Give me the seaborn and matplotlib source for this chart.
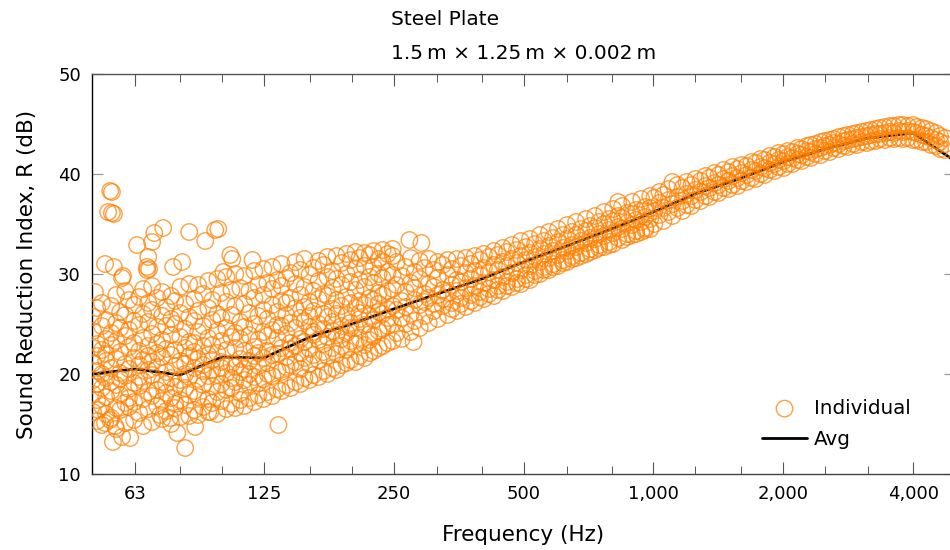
import matplotlib
matplotlib.use("Agg")
import matplotlib.pyplot as plt
import pandas as pd
import seaborn as sns
from matplotlib.ticker import FixedLocator, FixedFormatter, NullFormatter

# ---------------- data ----------------
avg_freq = [50, 63, 80, 100, 125, 160, 200, 250, 315, 400, 500, 630, 800,
            1000, 1250, 1600, 2000, 2500, 3150, 4000, 5000]
avg_R = [20.0, 20.5, 19.9, 21.7, 21.6, 23.7, 25.0, 26.5, 28.0, 29.5, 31.2, 32.8,
         34.5, 36.2, 38.0, 39.6, 41.2, 42.5, 43.6, 44.1, 41.3]

# isolated circles
sparse_freq = [55.1, 55.6, 54.5, 55.6, 56.2, 50.8, 53.6, 56.2, 59.0, 58.7, 63.6,
               69.7, 73.1, 68.9, 67.5, 67.1, 67.1, 67.8, 77.1, 80.9, 84.0, 91.5,
               96.5, 98.1, 104.6, 105.7, 117.7, 100.8, 82.2, 78.8, 61.3, 55.9,
               58.7, 53.6, 55.1, 56.6, 135.2, 86.7, 75.9, 71.9, 51.7, 94.0,
               278.0, 272.0, 290.0]
sparse_R = [38.3, 38.2, 36.2, 36.1, 36.0, 28.2, 31.0, 30.7, 29.8, 29.6, 32.9,
            34.1, 34.6, 33.2, 31.7, 30.7, 30.4, 30.5, 30.7, 31.2, 34.2, 33.3,
            34.4, 34.5, 31.9, 31.5, 31.4, 30.2, 12.6, 14.1, 13.6, 13.2, 13.7,
            15.1, 15.4, 14.8, 14.9, 14.7, 15.6, 15.9, 16.4, 16.2,
            23.2, 33.4, 33.1]

# dense cloud, low frequencies
low_freq = [50.3, 51.4, 52.7, 53.9, 55.4, 56.9, 58.1, 59.7, 60.9, 62.6, 64.3,
            65.7, 67.5, 68.9, 70.8, 72.7, 74.3, 76.3, 77.9, 80.1, 82.2, 84.0,
            86.3, 88.1, 90.5, 93.0, 95.0, 97.6, 99.7, 102.4, 105.2, 107.4,
            110.3, 112.7, 115.8, 118.9, 121.5, 124.8, 127.5, 130.9, 134.5,
            137.4, 141.1, 144.2, 148.1, 152.1, 155.4, 159.6, 163.0, 167.5,
            172.0, 175.7, 180.5, 184.4, 189.4, 194.5, 198.7, 204.1, 208.5,
            214.2, 220.0, 224.7, 230.8, 235.8, 242.2, 248.8]
low_R = [
    [16.2, 18.0, 19.4, 21.1, 22.6, 24.3, 25.7],
    [15.3, 17.4, 20.3, 21.8, 23.0, 19.0, 26.6],
    [14.9, 16.8, 18.6, 20.0, 22.4, 24.8, 27.1],
    [16.0, 17.7, 19.6, 21.3, 23.5, 25.4, 22.0],
    [15.6, 18.3, 20.6, 22.9, 24.1, 26.8, 19.2],
    [14.5, 16.6, 18.9, 21.5, 23.3, 25.1, 27.9],
    [16.4, 17.9, 20.1, 22.2, 24.6, 26.2, 19.5],
    [15.1, 17.1, 19.8, 21.0, 23.8, 25.9, 28.3],
    [16.7, 18.5, 20.5, 22.7, 24.4, 27.4, 17.6],
    [15.4, 17.2, 19.1, 21.6, 23.1, 25.3, 26.9],
    [16.1, 18.8, 20.9, 22.3, 24.9, 27.7, 19.7],
    [14.8, 17.5, 19.3, 21.4, 23.6, 26.0, 28.5],
    [16.5, 18.2, 20.4, 22.8, 25.2, 27.1, 21.8],
    [15.2, 17.8, 19.9, 21.2, 24.0, 26.4, 28.8],
    [16.8, 18.4, 20.7, 23.0, 24.7, 27.6, 22.1],
    [15.5, 17.3, 19.2, 21.7, 23.4, 25.8, 28.2],
    [16.3, 18.1, 20.2, 22.5, 24.8, 26.7, 19.0],
    [15.0, 17.6, 19.6, 21.9, 23.9, 25.5, 27.8],
    [16.6, 18.7, 20.8, 22.4, 25.0, 27.3, 17.0],
    [15.7, 17.4, 19.4, 21.3, 23.7, 26.1, 28.7],
    [16.9, 18.6, 20.0, 22.6, 24.5, 27.0, 21.0],
    [15.8, 17.9, 19.7, 21.8, 23.2, 25.7, 29.0],
    [16.4, 18.3, 20.6, 23.1, 25.3, 27.5, 22.2],
    [15.9, 17.7, 19.5, 21.5, 24.2, 26.3, 28.9],
    [16.7, 18.9, 20.9, 22.8, 24.8, 28.0, 20.3],
    [16.2, 17.5, 19.8, 21.9, 23.6, 26.6, 29.3],
    [17.1, 18.8, 20.4, 22.9, 25.4, 27.4, 21.4],
    [16.0, 18.2, 19.9, 22.1, 24.3, 26.0, 29.5],
    [17.3, 19.0, 21.2, 23.3, 25.6, 28.1, 20.6],
    [16.5, 18.4, 20.1, 22.4, 24.6, 27.2, 29.7],
    [17.0, 18.6, 21.0, 23.7, 25.9, 28.4, 19.6],
    [16.6, 19.2, 20.7, 22.6, 24.1, 26.8, 30.0],
    [17.4, 18.1, 21.5, 23.5, 25.2, 28.6, 20.2],
    [16.8, 19.4, 20.5, 22.3, 24.7, 27.0, 29.8],
    [17.6, 18.9, 21.3, 23.9, 26.1, 28.3, 20.0],
    [17.2, 19.7, 21.8, 22.7, 25.0, 27.6, 30.3],
    [17.9, 19.1, 20.8, 23.4, 25.8, 28.9, 22.1],
    [17.5, 19.5, 21.6, 24.2, 26.4, 27.9, 30.5],
    [18.2, 20.0, 22.3, 23.8, 25.5, 29.1, 21.1],
    [17.8, 19.8, 21.9, 24.4, 26.9, 28.5, 30.7],
    [18.5, 20.4, 22.0, 23.6, 26.2, 29.4, 24.9],
    [18.3, 20.2, 22.6, 24.8, 27.3, 28.8, 31.0],
    [18.9, 20.7, 21.7, 24.0, 25.9, 29.6, 27.1],
    [18.6, 20.9, 23.1, 25.1, 27.6, 30.1, 22.5],
    [19.2, 21.2, 22.8, 24.6, 26.6, 29.0, 31.2],
    [19.0, 20.5, 23.5, 25.6, 27.9, 30.4, 22.1],
    [19.6, 21.6, 23.2, 25.3, 26.7, 28.7, 31.5],
    [19.4, 21.0, 22.5, 24.7, 27.2, 29.9, 25.8],
    [19.9, 21.9, 23.9, 26.3, 28.3, 30.6, 24.2],
    [19.7, 21.4, 23.4, 25.0, 27.5, 29.3, 31.3],
    [20.3, 22.2, 24.5, 26.0, 28.0, 30.9, 23.0],
    [20.0, 21.8, 23.7, 25.7, 27.8, 29.7, 31.7],
    [20.6, 22.6, 24.3, 26.5, 28.6, 30.3, 25.2],
    [20.4, 22.0, 23.9, 26.0, 27.4, 29.5, 31.8],
    [20.9, 22.8, 24.8, 26.8, 28.9, 31.1, 23.5],
    [21.1, 22.4, 24.1, 25.9, 27.7, 30.0, 32.0],
    [21.4, 23.3, 25.1, 27.1, 29.2, 31.4, 24.6],
    [21.2, 23.0, 24.6, 26.6, 28.4, 30.5, 32.2],
    [21.8, 23.6, 25.5, 27.3, 29.4, 31.6, 26.1],
    [21.6, 22.9, 24.9, 26.9, 28.7, 30.8, 32.1],
    [22.1, 24.0, 25.8, 27.6, 29.7, 31.9, 23.4],
    [22.3, 23.8, 25.4, 27.4, 29.1, 30.7, 32.3],
    [22.6, 24.3, 26.2, 28.1, 30.0, 31.5, 27.0],
    [22.8, 24.5, 26.0, 27.9, 29.6, 31.2, 32.4],
    [23.1, 24.8, 26.5, 28.3, 30.2, 32.0, 25.6],
    [23.3, 25.0, 26.8, 28.5, 29.9, 31.8, 32.5],
]

# dense cloud, mid frequencies
mid_freq = [254.1, 261.0, 266.7, 273.9, 279.8, 287.4, 295.2, 301.6, 309.8,
            316.5, 325.0, 333.8, 341.1, 350.3, 357.9, 367.6, 377.5, 385.7,
            396.2, 404.7, 415.7, 427.0, 436.2, 448.0, 457.7, 470.1, 482.8,
            493.3, 506.7, 517.6, 531.6, 546.0, 557.9, 573.0, 585.4, 601.2,
            617.5, 630.9, 647.9, 662.0, 679.9, 698.3, 713.4, 732.7, 748.6,
            768.9, 789.7, 806.8, 828.7, 846.6, 869.5, 893.1, 912.4, 937.1,
            957.4, 983.4]
mid_R = [
    [24.1, 26.4, 28.9, 31.2], [23.5, 27.3, 29.8, 25.6], [25.0, 28.2, 30.7, 26.7],
    [24.2, 26.0, 29.1, 31.6], [27.4, 25.3, 30.2, 28.6], [24.6, 26.9, 29.5, 31.3],
    [25.8, 28.0, 30.6, 27.2], [25.1, 27.6, 29.0, 31.5], [26.3, 28.7, 30.4, 27.0],
    [25.5, 27.9, 29.6, 31.2], [26.8, 28.4, 30.9, 27.5], [25.9, 28.1, 29.9, 31.4],
    [27.1, 28.9, 30.5, 26.5], [26.3, 28.3, 29.4, 31.5], [27.6, 29.2, 30.8, 27.0],
    [26.7, 28.6, 30.1, 31.6], [27.9, 29.5, 31.0, 27.3], [27.1, 28.8, 30.3, 31.8],
    [28.2, 29.9, 31.4, 27.7], [27.5, 29.1, 30.6, 32.0], [28.5, 30.2, 31.7, 28.0],
    [27.8, 29.4, 30.9, 32.3], [28.8, 30.4, 31.9, 28.4], [28.3, 29.7, 31.2, 32.6],
    [29.2, 30.8, 32.2, 28.8], [28.7, 30.1, 31.5, 32.9], [29.5, 31.1, 32.4, 29.1],
    [29.0, 30.4, 31.8, 33.3], [29.9, 31.4, 32.7, 29.5], [29.4, 30.8, 32.1, 33.5],
    [30.3, 31.7, 33.0, 29.9], [30.0, 31.2, 32.5, 33.9], [30.7, 32.0, 33.3, 30.4],
    [30.4, 31.6, 32.8, 34.2], [31.0, 32.3, 33.6, 30.7], [30.8, 31.9, 33.2, 34.5],
    [31.4, 32.6, 33.9, 31.1], [31.2, 32.3, 33.5, 34.9], [31.8, 32.9, 34.2, 31.5],
    [31.6, 32.7, 33.9, 35.2], [32.1, 33.3, 34.5, 31.8], [32.0, 33.1, 34.3, 35.5],
    [32.5, 33.6, 34.8, 32.2], [32.4, 33.5, 34.6, 35.8], [32.9, 34.0, 35.2, 32.6],
    [32.7, 33.8, 35.0, 36.2], [33.2, 34.4, 35.5, 32.9], [33.0, 34.1, 35.3, 36.5],
    [33.6, 34.7, 35.8, 37.2], [33.4, 34.5, 35.6, 36.8], [34.0, 35.1, 36.1, 33.7],
    [33.9, 34.9, 36.0, 37.2], [34.3, 35.4, 36.4, 34.0], [34.2, 35.2, 36.3, 37.5],
    [34.6, 35.7, 36.7, 34.4], [34.5, 35.5, 36.6, 37.8],
]

# dense band, high frequencies
high_freq = [1005, 1033, 1055, 1084, 1107, 1137, 1168, 1193, 1225, 1252, 1286,
             1321, 1349, 1386, 1416, 1454, 1494, 1526, 1567, 1601, 1645, 1689,
             1726, 1772, 1811, 1860, 1910, 1951, 2004, 2048, 2103, 2160, 2207,
             2267, 2316, 2378, 2443, 2496, 2563, 2619, 2690, 2763, 2822, 2899,
             2962, 3042, 3124, 3192, 3278, 3349, 3440, 3533, 3610, 3707, 3788,
             3890, 3996, 4082, 4193, 4283, 4399, 4519, 4616, 4741]
high_R = [
    [35.0, 36.3, 37.6], [35.9, 37.1, 38.2], [35.3, 36.6, 37.9], [36.2, 37.4, 38.5],
    [35.8, 37.0, 39.2], [36.6, 37.7, 38.9], [36.3, 37.3, 38.6], [36.9, 38.0, 39.2],
    [36.8, 37.8, 38.9], [37.4, 38.4, 39.5], [37.3, 38.2, 39.3], [37.8, 38.8, 39.8],
    [37.7, 38.6, 39.6], [38.2, 39.1, 40.1], [38.1, 38.9, 39.9], [38.6, 39.5, 40.4],
    [38.5, 39.3, 40.2], [38.9, 39.8, 40.7], [38.8, 39.6, 40.5], [39.3, 40.1, 40.9],
    [39.2, 39.9, 40.8], [39.6, 40.4, 41.2], [39.5, 40.3, 41.1], [40.0, 40.7, 41.5],
    [39.9, 40.6, 41.4], [40.4, 41.1, 41.8], [40.3, 41.0, 41.7], [40.7, 41.4, 42.1],
    [40.6, 41.3, 42.0], [41.0, 41.7, 42.3], [41.0, 41.6, 42.2], [41.4, 42.0, 42.6],
    [41.3, 41.9, 42.5], [41.7, 42.3, 42.8], [41.6, 42.2, 42.9], [42.0, 42.5, 43.0],
    [41.9, 42.6, 43.2], [42.3, 42.8, 43.3], [42.2, 42.9, 43.4], [42.6, 43.1, 43.5],
    [42.5, 43.0, 43.7], [42.8, 43.3, 43.8], [42.7, 43.4, 43.9], [43.0, 43.5, 44.0],
    [42.9, 43.6, 44.1], [43.2, 43.7, 44.2], [43.1, 43.8, 44.3], [43.3, 43.9, 44.4],
    [43.3, 44.0, 44.5], [43.5, 44.0, 44.6], [43.4, 44.1, 44.7], [43.6, 44.2, 44.8],
    [43.5, 44.1, 44.8], [43.6, 44.3, 44.9], [43.5, 44.2, 44.9], [43.6, 44.3, 44.8],
    [43.4, 44.2, 44.9], [43.4, 44.1, 44.7], [43.2, 43.9, 44.6], [43.2, 43.8, 44.5],
    [42.9, 43.6, 44.3], [42.8, 43.4, 44.1], [42.5, 43.2, 43.8], [42.4, 43.0, 43.6],
]

xtick_vals = [63, 125, 250, 500, 1000, 2000, 4000]
xtick_labels = ["63", "125", "250", "500", "1,000", "2,000", "4,000"]
xminor_vals = [50, 80, 100, 160, 200, 315, 400, 630, 800, 1250, 1600, 2500,
               3150, 5000]
ytick_vals = [10, 20, 30, 40, 50]

title_text = "Steel Plate\n1.5\u2009m \u00d7 1.25\u2009m \u00d7 0.002\u2009m"
xlabel_text = "Frequency (Hz)"
ylabel_text = "Sound Reduction Index, R (dB)"

# ---------------- build tables ----------------
def flatten(freqs, cols):
    f, r = [], []
    for fq, vals in zip(freqs, cols):
        f += [fq] * len(vals)
        r += list(vals)
    return f, r

pf, pr = list(sparse_freq), list(sparse_R)
for fr, cl in [(low_freq, low_R), (mid_freq, mid_R), (high_freq, high_R)]:
    a, b = flatten(fr, cl)
    pf += a
    pr += b
points = pd.DataFrame({"Frequency": pf, "R": pr})
avg_df = pd.DataFrame({"Frequency": avg_freq, "R": avg_R})

# ---------------- plot ----------------
sns.set_style("white")
plt.rcParams["font.family"] = ["DejaVu Sans"]
plt.rcParams["text.color"] = "black"
plt.rcParams["axes.labelcolor"] = "black"

orange = (1.0, 0.5, 0.0)
fig = plt.figure(figsize=(9.5, 5.5), dpi=100)
ax = fig.add_axes([92 / 950, 1 - 474 / 550, 863 / 950, 400 / 550])
ax.set_xscale("log")

sns.lineplot(data=avg_df, x="Frequency", y="R", color="black", linewidth=2.0,
             ax=ax, label="Avg", zorder=2)
sns.scatterplot(data=points, x="Frequency", y="R", marker="o", s=140,
                facecolors="none", edgecolor=orange, linewidth=1.0, alpha=0.75,
                ax=ax, label="Individual", zorder=3)

ax.set_xlim(50, 5000)
ax.set_ylim(10, 50)
ax.xaxis.set_major_locator(FixedLocator(xtick_vals))
ax.xaxis.set_major_formatter(FixedFormatter(xtick_labels))
ax.xaxis.set_minor_locator(FixedLocator(xminor_vals))
ax.xaxis.set_minor_formatter(NullFormatter())
ax.set_yticks(ytick_vals)

ax.tick_params(axis="x", which="both", direction="in", top=True, bottom=True,
               color="#555555", labelcolor="black", labelsize=13, pad=8)
ax.tick_params(axis="x", which="major", length=8.4, width=0.8)
ax.tick_params(axis="x", which="minor", length=6.0, width=0.7)
ax.tick_params(axis="y", which="major", direction="in", left=True, right=True,
               color="#9a9a9a", labelcolor="black", labelsize=13, length=8,
               width=0.9, pad=8)

for side, col in [("left", "black"), ("bottom", "#444444"), ("top", "#555555"),
                  ("right", "#555555")]:
    ax.spines[side].set_color(col)
    ax.spines[side].set_linewidth(1.0)

ax.set_xlabel(xlabel_text, fontsize=15.5, labelpad=16, color="black")
ax.set_ylabel(ylabel_text, fontsize=15.5, labelpad=15, color="black")
ax.set_title(title_text, fontsize=14.5, ma="left", linespacing=2.05, pad=10.5,
             color="black")

handles, labels = ax.get_legend_handles_labels()
order = [labels.index("Individual"), labels.index("Avg")]
leg = ax.legend([handles[i] for i in order], [labels[i] for i in order],
                frameon=False, loc="upper left", bbox_to_anchor=(0.776, 0.188),
                fontsize=14.3, handlelength=2.3, handletextpad=0.35,
                labelspacing=0.6, borderpad=0, borderaxespad=0)
for t in leg.get_texts():
    t.set_color("black")

fig.savefig("out.png", dpi=100)
